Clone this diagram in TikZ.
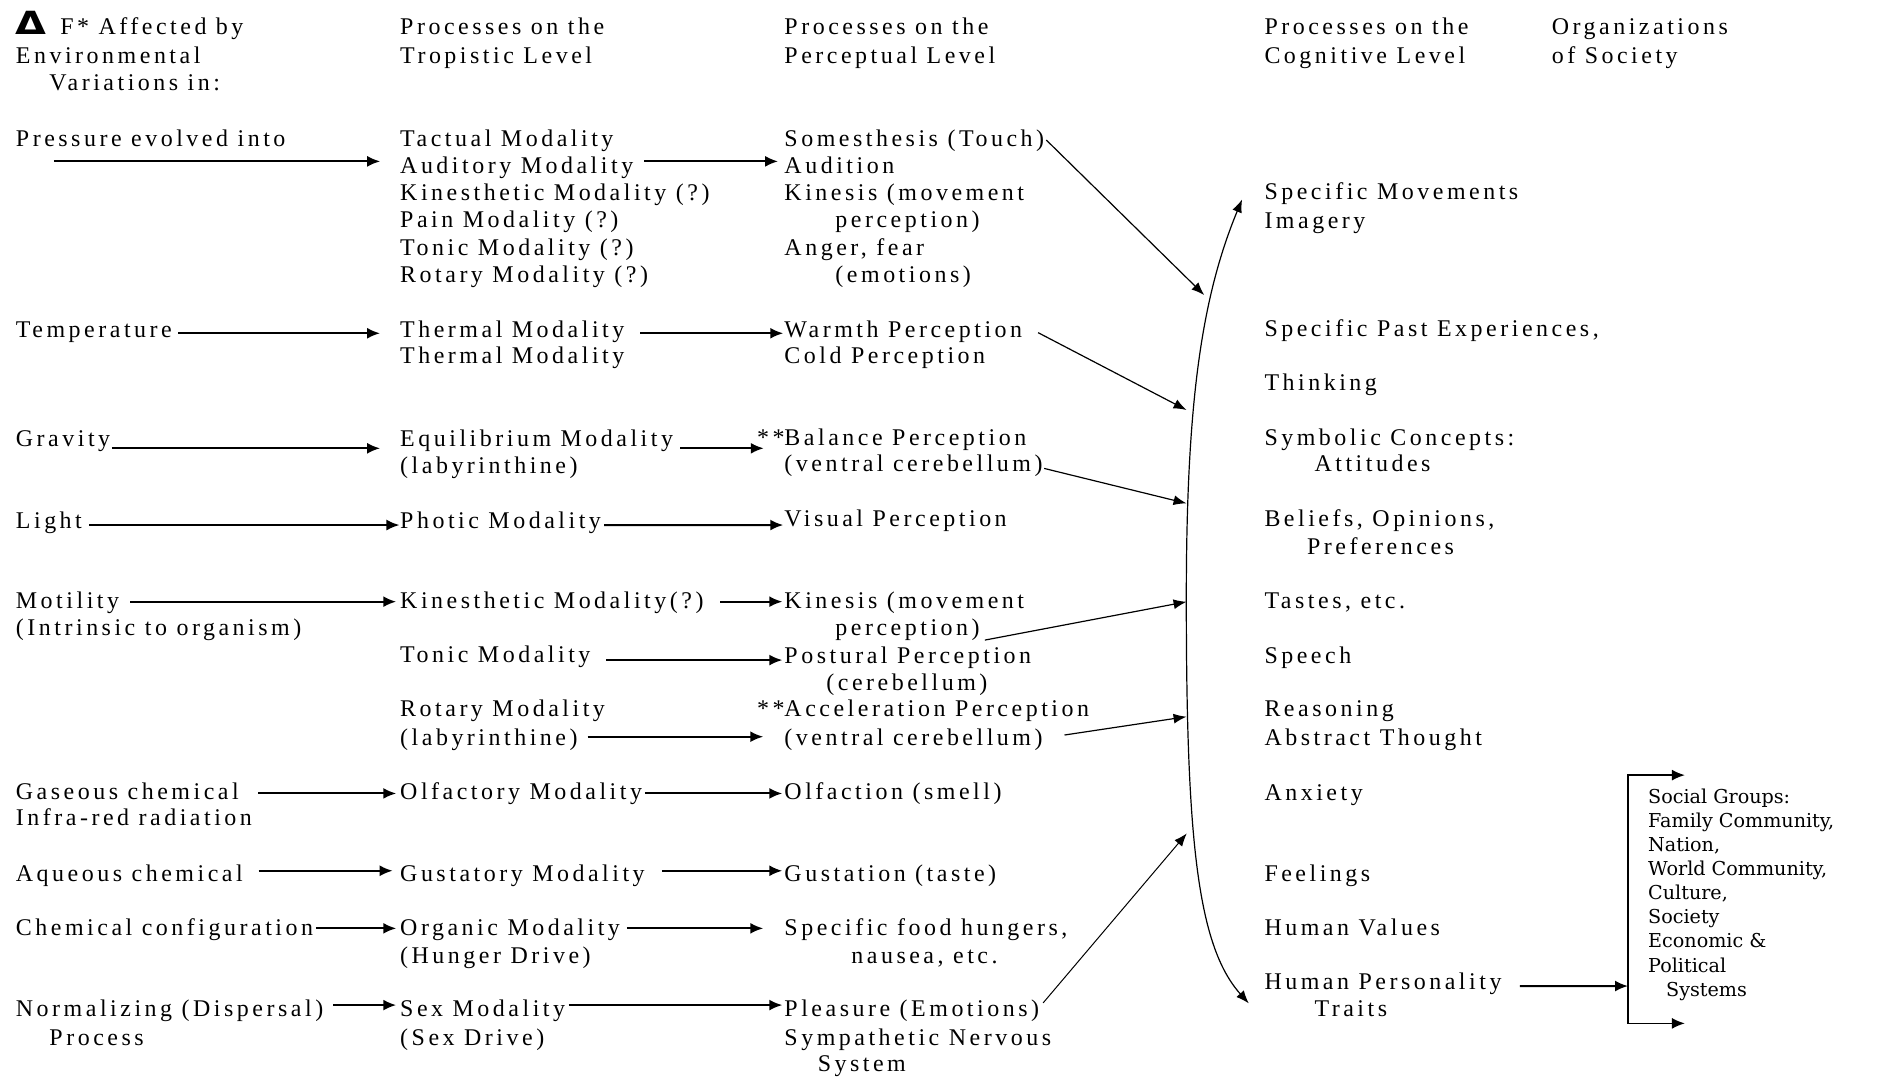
\documentclass[tikz,border=0pt]{standalone}
\usepackage{fontspec}
\setmainfont{Liberation Serif}[LetterSpace=14.7]
\newfontfamily\deltafont{DejaVu Sans}
\newfontfamily\grpfont{DejaVu Serif}
\usetikzlibrary{arrows.meta, calc}

\begin{document}
\begin{tikzpicture}[
        x=0.6pt, y=-0.6pt,
        every node/.style={inner sep=0pt, anchor=base west, font=\fontsize{12}{13.7}\selectfont},
        grp/.style={font=\grpfont\fontsize{9.6}{12.06}\selectfont, align=left},
        arr/.style={-{Latex[length=6.5pt, width=5.5pt]}, line width=1pt},
        feed/.style={-{Latex[length=6.5pt, width=5pt]}, line width=0.6pt},
        curv/.style={{Latex[length=6.5pt, width=5pt]}-{Latex[length=6.5pt, width=5pt]}, line width=0.6pt},
        brack/.style={{Latex[length=6.5pt, width=5.5pt]}-{Latex[length=6.5pt, width=5.5pt]}, line width=0.8pt}
    ]
        \useasboundingbox (0,0) rectangle (1568,900);

        \node[font=\deltafont\bfseries\fontsize{16}{16}\selectfont] (delta) at (13,28.7) {\scalebox{1.25}[1]{Δ}};
        \node (hF) at (50,28.7) {F* Affected by};
        \node (hEnv) at (13,52.9) {Environmental};
        \node (hVar) at (41,75.8) {Variations in:};
        \node (hTrop1) at (334,28.7) {Processes on the};
        \node (hTrop2) at (334,52.9) {Tropistic Level};
        \node (hPerc1) at (655,28.7) {Processes on the};
        \node (hPerc2) at (655,52.9) {Perceptual Level};
        \node (hCog1) at (1056,28.7) {Processes on the};
        \node (hCog2) at (1056,52.9) {Cognitive Level};
        \node (hSoc1) at (1296,28.7) {Organizations};
        \node (hSoc2) at (1296,52.9) {of Society};

        \node (press) at (13,122) {Pressure evolved into};
        \node (temp) at (13,281.7) {Temperature};
        \node (grav) at (13,373.2) {Gravity};
        \node (light) at (13,441.4) {Light};
        \node (motil) at (13,508) {Motility};
        \node (intrin) at (13,530.5) {(Intrinsic to organism)};
        \node (gas) at (13,667.8) {Gaseous chemical};
        \node (infra) at (13,690) {Infra-red radiation};
        \node (aqua) at (13,736.6) {Aqueous chemical};
        \node (chem) at (13,781.1) {Chemical configuration};
        \node (norm) at (13,849.3) {Normalizing (Dispersal)};
        \node (proc) at (41,873) {Process};

        \node (tact) at (334,122) {Tactual Modality};
        \node (audm) at (334,144.8) {Auditory Modality};
        \node (kinm) at (334,167.6) {Kinesthetic Modality (?)};
        \node (painm) at (334,190.4) {Pain Modality (?)};
        \node (tonm) at (334,213.2) {Tonic Modality (?)};
        \node (rotm) at (334,236) {Rotary Modality (?)};
        \node (therma) at (334,281.7) {Thermal Modality};
        \node (thermb) at (334,303.5) {Thermal Modality};
        \node (equil) at (334,373.2) {Equilibrium Modality};
        \node (labya) at (334,395.4) {(labyrinthine)};
        \node (photic) at (334,441.4) {Photic Modality};
        \node (kinmb) at (334,508) {Kinesthetic Modality(?)};
        \node (tonmb) at (334,553.6) {Tonic Modality};
        \node (rotmb) at (334,598.7) {Rotary Modality};
        \node (labyb) at (334,622.4) {(labyrinthine)};
        \node (olfm) at (334,667.8) {Olfactory Modality};
        \node (gustm) at (334,736.6) {Gustatory Modality};
        \node (organm) at (334,781.1) {Organic Modality};
        \node (hunger) at (334,804.8) {(Hunger Drive)};
        \node (sexm) at (334,849.3) {Sex Modality};
        \node (sexd) at (334,873) {(Sex Drive)};

        \node (somes) at (655,122) {Somesthesis (Touch)};
        \node (audit) at (655,144.8) {Audition};
        \node (kinesa) at (655,167.6) {Kinesis (movement};
        \node (percpa) at (697.6,190.4) {perception)};
        \node (anger) at (655,213.2) {Anger, fear};
        \node (emot) at (697.6,236) {(emotions)};
        \node (warmth) at (655,281.7) {Warmth Perception};
        \node (cold) at (655,303.5) {Cold Perception};
        \node (balance) at (655,371.8) {\llap{**}Balance Perception};
        \node (ventra) at (655,394) {(ventral cerebellum)};
        \node (visual) at (655,440) {Visual Perception};
        \node (kinesb) at (655,508) {Kinesis (movement};
        \node (percpb) at (697.6,530.5) {perception)};
        \node (postur) at (655,554) {Postural Perception};
        \node (cereb) at (690,576.4) {(cerebellum)};
        \node (accel) at (655,598.7) {\llap{**}Acceleration Perception};
        \node (ventrb) at (655,622.4) {(ventral cerebellum)};
        \node (olfac) at (655,667.8) {Olfaction (smell)};
        \node (gustat) at (655,736.6) {Gustation (taste)};
        \node (food) at (655,781.1) {Specific food hungers,};
        \node (nausea) at (710.9,804.8) {nausea, etc.};
        \node (pleas) at (655,849.3) {Pleasure (Emotions)};
        \node (symp) at (655,873) {Sympathetic Nervous};
        \node (system) at (682.8,895.3) {System};

        \node (specmov) at (1056,167) {Specific Movements};
        \node (imag) at (1056,190.8) {Imagery};
        \node (pastexp) at (1056,280.7) {Specific Past Experiences,};
        \node (think) at (1056,325.8) {Thinking};
        \node (symb) at (1056,371.8) {Symbolic Concepts:};
        \node (attit) at (1097.8,394) {Attitudes};
        \node (belief) at (1056,440) {Beliefs, Opinions,};
        \node (prefer) at (1091.6,462.8) {Preferences};
        \node (taste) at (1056,508.2) {Tastes, etc.};
        \node (speech) at (1056,554.2) {Speech};
        \node (reason) at (1056,598.7) {Reasoning};
        \node (abstr) at (1056,622.4) {Abstract Thought};
        \node (anx) at (1056,668.3) {Anxiety};
        \node (feel) at (1056,736.6) {Feelings};
        \node (values) at (1056,781.1) {Human Values};
        \node (pers) at (1056,827) {Human Personality};
        \node (traits) at (1097.8,849.3) {Traits};

        \node[grp] (social) at (1376.5,832.1) {Social Groups:\\Family Community,\\Nation,\\World Community,\\Culture,\\Society\\Economic \&\\Political\\\hspace*{9pt}Systems};

        \coordinate (ctop) at (1037.6,166.6);
        \coordinate (cmid) at (991,500);
        \coordinate (cbot) at (1043.2,838.2);
        \coordinate (k1) at (1006,246.5);
        \coordinate (k2) at (991.2,342.5);
        \coordinate (k3) at (991.2,420.5);
        \coordinate (k4) at (991.2,502.7);
        \coordinate (k5) at (991.2,598.7);
        \coordinate (k6) at (991.4,696.2);
        \coordinate (brk) at (1360,823.7);
        \coordinate (bTop) at (1407.5,647.5);
        \coordinate (bBot) at (1407.5,854.9);

        \draw[arr] ($(press.base west)+(32,12.8)$) -- ($(audm.base west)+(-16.4,-10)$);
        \draw[arr] ($(temp.base east)+(5,-3.3)$) -- ($(therma.base west)+(-16.5,-3.3)$);
        \draw[arr] ($(grav.base east)+(1,1.3)$) -- ($(equil.base west)+(-16.5,1.3)$);
        \draw[arr] ($(light.base east)+(6,-2.8)$) -- ($(photic.base west)+(-0.3,-2.8)$);
        \draw[arr] ($(motil.base east)+(9,-5.4)$) -- ($(kinmb.base west)+(-3,-5.4)$);
        \draw[arr] ($(gas.base east)+(16,-5)$) -- ($(olfm.base west)+(-3,-5)$);
        \draw[arr] ($(aqua.base east)+(13,-9.2)$) -- ($(gustm.base west)+(-6,-9.2)$);
        \draw[arr] ($(chem.base east)+(2,-5.6)$) -- ($(organm.base west)+(-3,-5.6)$);
        \draw[arr] ($(norm.base east)+(8,-9.7)$) -- ($(sexm.base west)+(-3,-9.7)$);

        \draw[arr] ($(audm.base east)+(9,-10)$) -- ($(audit.base west)+(-5,-10)$);
        \draw[arr] ($(therma.base east)+(13,-3.3)$) -- ($(warmth.base west)+(-0.7,-3.3)$);
        \draw[arr] ($(equil.base east)+(5.6,1.3)$) -- ($(balance.base west)+(-17,2.7)$);
        \draw[arr] ($(photic.base east)+(2.4,-2.8)$) -- ($(visual.base west)+(-0.7,-1.4)$);
        \draw[arr] ($(kinmb.base east)+(13.6,-5.4)$) -- ($(kinesb.base west)+(-1.5,-5.4)$);
        \draw[arr] ($(tonmb.base east)+(13,-2.2)$) -- ($(postur.base west)+(-1.5,-2.6)$);
        \draw[arr] ($(labyb.base east)+(8,-7)$) -- ($(ventrb.base west)+(-17.4,-7)$);
        \draw[arr] ($(olfm.base east)+(2,-5)$) -- ($(olfac.base west)+(-1.5,-5)$);
        \draw[arr] ($(gustm.base east)+(14,-9.2)$) -- ($(gustat.base west)+(-1.5,-9.2)$);
        \draw[arr] ($(organm.base east)+(5.5,-5.6)$) -- ($(food.base west)+(-17.4,-5.6)$);
        \draw[arr] ($(sexm.base east)+(2.6,-9.7)$) -- ($(pleas.base west)+(-1.5,-9.7)$);

        \draw[feed] ($(somes.base east)+(1.5,-5)$) -- (k1);
        \draw[feed] ($(warmth.base east)+(13,-3.8)$) -- (k2);
        \draw[feed] ($(ventra.base east)+(1,-2.7)$) -- (k3);
        \draw[feed] ($(percpb.base east)+(4,4.2)$) -- (k4);
        \draw[feed] ($(ventrb.base east)+(18,-8.4)$) -- (k5);
        \draw[feed, line width=0.5pt] ($(pleas.base east)+(3,-11.5)$) -- (k6);

        \draw[curv] (ctop) .. controls (1003,250) and (991,340) .. (cmid) .. controls (991,700) and (1000,790) .. (cbot);

        \draw[arr] ($(pers.base east)+(15,-3.3)$) -- (brk);
        \draw[brack] (bTop) -- (brk |- bTop) -- (brk |- bBot) -- (bBot);
    \end{tikzpicture}
\end{document}
